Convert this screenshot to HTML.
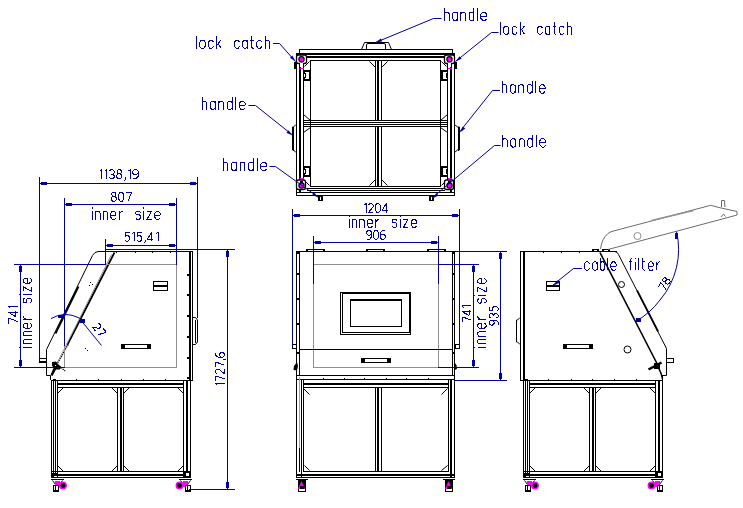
<!DOCTYPE html>
<html><head><meta charset="utf-8"><style>
html,body{margin:0;padding:0;background:#fff;width:743px;height:508px;overflow:hidden}
svg{display:block}
text{font-family:"Liberation Sans",sans-serif;white-space:pre}
</style></head><body>
<svg width="743" height="508" viewBox="0 0 743 508" shape-rendering="geometricPrecision">
<rect x="0" y="0" width="743" height="508" fill="#fff"/>
<path d="M361.5,49.5 L364.5,42.5 L388.5,42.5 L391.5,49.5" stroke="#000" stroke-width="1" fill="none"/>
<path d="M366.5,49.5 L366.5,45 Q366.5,43.5 368,43.5 L384,43.5 Q385.5,43.5 385.5,45 L385.5,49.5" stroke="#000" stroke-width="1" fill="none"/>
<rect x="299" y="49" width="154" height="1" fill="#000"/>
<rect x="299" y="49" width="1" height="5" fill="#000"/>
<rect x="452" y="49" width="1" height="5" fill="#000"/>
<rect x="296" y="53" width="159" height="2" fill="#000"/>
<rect x="307" y="56" width="138" height="2" fill="#000"/>
<rect x="310" y="60" width="131" height="1" fill="#000"/>
<rect x="310" y="186" width="131" height="1" fill="#000"/>
<rect x="307" y="188" width="138" height="1" fill="#000"/>
<rect x="307" y="190" width="138" height="1" fill="#000"/>
<rect x="296" y="192" width="159" height="1" fill="#000"/>
<rect x="296" y="195" width="159" height="1" fill="#000"/>
<rect x="296" y="53" width="1" height="143" fill="#000"/>
<rect x="299" y="56" width="2" height="137" fill="#000"/>
<rect x="303" y="60" width="1" height="127" fill="#000"/>
<rect x="310" y="60" width="1" height="127" fill="#000"/>
<rect x="440" y="60" width="1" height="127" fill="#000"/>
<rect x="447" y="60" width="1" height="127" fill="#000"/>
<rect x="450" y="56" width="2" height="137" fill="#000"/>
<rect x="454" y="53" width="1" height="143" fill="#000"/>
<rect x="375" y="60" width="1" height="127" fill="#000"/>
<rect x="377" y="60" width="2" height="127" fill="#000"/>
<rect x="381" y="60" width="1" height="127" fill="#000"/>
<rect x="311" y="121" width="129" height="5" fill="#fff"/>
<rect x="303" y="120" width="145" height="1" fill="#000"/>
<rect x="303" y="122" width="145" height="1" fill="#000"/>
<rect x="303" y="124" width="145" height="1" fill="#000"/>
<rect x="303" y="126" width="145" height="1" fill="#000"/>
<line x1="369.5" y1="61.5" x2="375.5" y2="67.5" stroke="#000" stroke-width="1"/>
<line x1="387.5" y1="61.5" x2="381.5" y2="67.5" stroke="#000" stroke-width="1"/>
<line x1="369.5" y1="185.5" x2="375.5" y2="179.5" stroke="#000" stroke-width="1"/>
<line x1="387.5" y1="185.5" x2="381.5" y2="179.5" stroke="#000" stroke-width="1"/>
<line x1="303.5" y1="114.5" x2="310.5" y2="120.5" stroke="#000" stroke-width="1"/>
<line x1="303.5" y1="132.5" x2="310.5" y2="127.5" stroke="#000" stroke-width="1"/>
<line x1="304.5" y1="66.5" x2="309.5" y2="61.5" stroke="#000" stroke-width="1"/>
<line x1="446.5" y1="66.5" x2="441.5" y2="61.5" stroke="#000" stroke-width="1"/>
<line x1="304.5" y1="180.5" x2="309.5" y2="185.5" stroke="#000" stroke-width="1"/>
<line x1="446.5" y1="180.5" x2="441.5" y2="185.5" stroke="#000" stroke-width="1"/>
<line x1="447.5" y1="114.5" x2="440.5" y2="120.5" stroke="#000" stroke-width="1"/>
<line x1="447.5" y1="132.5" x2="440.5" y2="127.5" stroke="#000" stroke-width="1"/>
<rect x="304" y="70" width="7" height="2" fill="#000"/>
<rect x="304" y="79" width="7" height="2" fill="#000"/>
<rect x="309" y="70" width="2" height="11" fill="#000"/>
<rect x="304" y="72" width="1" height="2" fill="#000"/>
<rect x="304" y="77" width="1" height="2" fill="#000"/>
<rect x="305" y="73" width="1" height="5" fill="#000"/>
<rect x="304" y="166" width="7" height="2" fill="#000"/>
<rect x="304" y="175" width="7" height="2" fill="#000"/>
<rect x="309" y="166" width="2" height="11" fill="#000"/>
<rect x="304" y="168" width="1" height="2" fill="#000"/>
<rect x="304" y="173" width="1" height="2" fill="#000"/>
<rect x="305" y="169" width="1" height="5" fill="#000"/>
<rect x="441" y="70" width="7" height="2" fill="#000"/>
<rect x="441" y="79" width="7" height="2" fill="#000"/>
<rect x="441" y="70" width="2" height="11" fill="#000"/>
<rect x="447" y="72" width="1" height="2" fill="#000"/>
<rect x="447" y="77" width="1" height="2" fill="#000"/>
<rect x="446" y="73" width="1" height="5" fill="#000"/>
<rect x="441" y="166" width="7" height="2" fill="#000"/>
<rect x="441" y="175" width="7" height="2" fill="#000"/>
<rect x="441" y="166" width="2" height="11" fill="#000"/>
<rect x="447" y="168" width="1" height="2" fill="#000"/>
<rect x="447" y="173" width="1" height="2" fill="#000"/>
<rect x="446" y="169" width="1" height="5" fill="#000"/>
<path d="M296,124.5 L293.5,127 L292.5,127 L292.5,150 L293.5,150 L296,152.5" stroke="#000" stroke-width="1" fill="none"/>
<rect x="293" y="127" width="1" height="24" fill="#000"/>
<path d="M454.5,124.5 L457.5,127 L459.5,127 L459.5,150 L457.5,150 L454.5,152.5" stroke="#000" stroke-width="1" fill="none"/>
<rect x="458" y="127" width="1" height="24" fill="#000"/>
<rect x="296.5" y="55" width="10" height="8.5" rx="2" fill="#fff" stroke="#000" stroke-width="1.3"/>
<circle cx="301.5" cy="59.3" r="2.6" stroke="#000" stroke-width="1.2" fill="#ff00ff"/>
<rect x="300" y="63" width="3" height="4" fill="#fff"/>
<rect x="299" y="63" width="1" height="5" fill="#000"/>
<rect x="303" y="63" width="1" height="5" fill="#000"/>
<rect x="300" y="68" width="4" height="1" fill="#ff00ff"/>
<rect x="444.5" y="55" width="10" height="8.5" rx="2" fill="#fff" stroke="#000" stroke-width="1.3"/>
<circle cx="449.5" cy="59.3" r="2.6" stroke="#000" stroke-width="1.2" fill="#ff00ff"/>
<rect x="448" y="63" width="3" height="4" fill="#fff"/>
<rect x="447" y="63" width="1" height="5" fill="#000"/>
<rect x="451" y="63" width="1" height="5" fill="#000"/>
<rect x="448" y="68" width="4" height="1" fill="#ff00ff"/>
<rect x="300" y="178" width="4" height="1" fill="#ff00ff"/>
<rect x="296.5" y="180" width="9" height="9.5" rx="2" fill="#fff" stroke="#000" stroke-width="1.3"/>
<circle cx="301.5" cy="185.5" r="2.6" stroke="#000" stroke-width="1.2" fill="#ff00ff"/>
<rect x="300" y="181" width="3" height="2" fill="#000"/>
<rect x="448" y="178" width="4" height="1" fill="#ff00ff"/>
<rect x="444.5" y="180" width="9" height="9.5" rx="2" fill="#fff" stroke="#000" stroke-width="1.3"/>
<circle cx="449.5" cy="185.5" r="2.6" stroke="#000" stroke-width="1.2" fill="#ff00ff"/>
<rect x="448" y="181" width="3" height="2" fill="#000"/>
<rect x="294" y="62" width="3" height="7" fill="#000"/>
<rect x="454" y="62" width="3" height="7" fill="#000"/>
<rect x="318" y="196" width="5" height="5" fill="#000"/>
<rect x="320" y="197" width="1" height="3" fill="#fff"/>
<rect x="429" y="196" width="5" height="5" fill="#000"/>
<rect x="431" y="197" width="1" height="3" fill="#fff"/>
<path d="M176.5,251.5 L98.5,251.5 Q94.5,251.5 92.5,255.5 L46.5,349.5 L46.5,375.5 L50.5,375.5 L50.5,380" stroke="#000" stroke-width="1" fill="none"/>
<line x1="114.5" y1="252.5" x2="67.5" y2="344.5" stroke="#000" stroke-width="1.8"/>
<path d="M68,344.5 L57.5,363" stroke="#000" stroke-width="1.6" stroke-dasharray="1.2,1" fill="none"/>
<path d="M61,367.5 L65,371" stroke="#000" stroke-width="1.5" stroke-dasharray="1.2,1" fill="none"/>
<line x1="111.5" y1="254.5" x2="58.5" y2="360.5" stroke="#909090" stroke-width="1"/>
<line x1="78.5" y1="286.5" x2="55.5" y2="333.5" stroke="#000" stroke-width="1.8"/>
<rect x="90" y="282" width="1" height="1" fill="#000"/>
<rect x="92" y="284" width="1" height="1" fill="#000"/>
<rect x="89" y="285" width="1" height="1" fill="#000"/>
<rect x="85" y="348" width="1" height="1" fill="#000"/>
<rect x="87" y="350" width="1" height="1" fill="#000"/>
<rect x="98" y="251" width="94" height="1" fill="#000"/>
<rect x="189" y="251" width="2" height="130" fill="#000"/>
<rect x="192" y="251" width="1" height="130" fill="#000"/>
<rect x="187" y="274" width="2" height="2" fill="#000"/>
<rect x="187" y="294" width="2" height="2" fill="#000"/>
<rect x="187" y="315" width="2" height="2" fill="#000"/>
<rect x="187" y="336" width="2" height="2" fill="#000"/>
<rect x="187" y="357" width="2" height="2" fill="#000"/>
<rect x="187" y="377" width="2" height="2" fill="#000"/>
<rect x="116" y="252" width="1" height="1" fill="#000"/>
<rect x="135" y="252" width="1" height="1" fill="#000"/>
<rect x="152" y="252" width="1" height="1" fill="#000"/>
<rect x="170" y="252" width="1" height="1" fill="#000"/>
<rect x="76" y="379" width="1" height="1" fill="#000"/>
<rect x="98" y="379" width="1" height="1" fill="#000"/>
<rect x="143" y="379" width="1" height="1" fill="#000"/>
<rect x="165" y="379" width="1" height="1" fill="#000"/>
<rect x="39" y="358" width="8" height="1" fill="#000"/>
<rect x="39" y="362" width="8" height="1" fill="#000"/>
<rect x="39" y="358" width="1" height="5" fill="#000"/>
<rect x="46" y="358" width="1" height="5" fill="#000"/>
<rect x="40" y="361" width="6" height="1" fill="#000"/>
<path d="M192.5,317.5 L195.5,317.5 L197.5,320 L197.5,342 L195.5,344.5 L192.5,344.5" stroke="#000" stroke-width="1" fill="none"/>
<rect x="195" y="320" width="1" height="23" fill="#000"/>
<rect x="153" y="281" width="15" height="1" fill="#000"/>
<rect x="153" y="290" width="15" height="1" fill="#000"/>
<rect x="153" y="281" width="1" height="10" fill="#000"/>
<rect x="167" y="281" width="1" height="10" fill="#000"/>
<rect x="154" y="285" width="13" height="2" fill="#000"/>
<rect x="121" y="344" width="30" height="1" fill="#000"/>
<rect x="121" y="348" width="30" height="1" fill="#000"/>
<rect x="121" y="344" width="1" height="5" fill="#000"/>
<rect x="150" y="344" width="1" height="5" fill="#000"/>
<rect x="122" y="345" width="3" height="3" fill="#000"/>
<rect x="147" y="345" width="3" height="3" fill="#000"/>
<rect x="105" y="264" width="72" height="1" fill="#909090"/>
<rect x="176" y="264" width="1" height="104" fill="#909090"/>
<rect x="64" y="367" width="113" height="1" fill="#909090"/>
<rect x="64" y="345" width="1" height="23" fill="#909090"/>
<path d="M52,362 L56,361.5 L58,364 L61.5,367 L60,369.5 L56,369.5 L52.5,376 L50.5,375 L53.5,368 L52,365.5 Z" fill="#000"/>
<rect x="55" y="365" width="1" height="1" fill="#fff"/>
<rect x="51" y="380" width="142" height="1" fill="#000"/>
<rect x="57" y="383" width="127" height="2" fill="#000"/>
<rect x="57" y="387" width="127" height="1" fill="#000"/>
<rect x="53" y="379" width="3" height="1" fill="#000"/>
<rect x="121" y="379" width="1" height="1" fill="#000"/>
<rect x="51" y="380" width="1" height="98" fill="#000"/>
<rect x="53" y="380" width="1" height="98" fill="#000"/>
<rect x="55" y="380" width="1" height="98" fill="#000"/>
<rect x="57" y="380" width="1" height="92" fill="#000"/>
<rect x="117" y="387" width="1" height="85" fill="#000"/>
<rect x="120" y="387" width="2" height="85" fill="#000"/>
<rect x="123" y="387" width="1" height="85" fill="#000"/>
<rect x="183" y="380" width="1" height="92" fill="#000"/>
<rect x="186" y="380" width="2" height="98" fill="#000"/>
<rect x="190" y="380" width="1" height="98" fill="#000"/>
<rect x="57" y="471" width="127" height="1" fill="#000"/>
<rect x="51" y="474" width="140" height="2" fill="#000"/>
<rect x="51" y="477" width="140" height="1" fill="#000"/>
<line x1="57.5" y1="393.5" x2="63.5" y2="387.5" stroke="#000" stroke-width="1"/>
<line x1="111.5" y1="387.5" x2="117.5" y2="393.5" stroke="#000" stroke-width="1"/>
<line x1="123.5" y1="393.5" x2="129.5" y2="387.5" stroke="#000" stroke-width="1"/>
<line x1="177.5" y1="387.5" x2="183.5" y2="393.5" stroke="#000" stroke-width="1"/>
<line x1="57.5" y1="465.5" x2="63.5" y2="471.5" stroke="#000" stroke-width="1"/>
<line x1="111.5" y1="471.5" x2="117.5" y2="465.5" stroke="#000" stroke-width="1"/>
<line x1="123.5" y1="465.5" x2="129.5" y2="471.5" stroke="#000" stroke-width="1"/>
<line x1="177.5" y1="471.5" x2="183.5" y2="465.5" stroke="#000" stroke-width="1"/>
<rect x="51" y="471" width="7" height="7" fill="#000"/>
<rect x="52" y="472" width="1" height="1" fill="#fff"/>
<rect x="54" y="472" width="1" height="1" fill="#fff"/>
<rect x="56" y="472" width="1" height="1" fill="#fff"/>
<rect x="54" y="476" width="3" height="1" fill="#fff"/>
<rect x="183" y="471" width="8" height="7" fill="#000"/>
<rect x="186" y="473" width="3" height="3" fill="#fff"/>
<rect x="51" y="479" width="13" height="1" fill="#000"/>
<line x1="52.5" y1="480.5" x2="55.5" y2="484.5" stroke="#000" stroke-width="1"/>
<line x1="62.5" y1="480.5" x2="59.5" y2="484.5" stroke="#000" stroke-width="1"/>
<rect x="55" y="481" width="5" height="6" fill="#ff00ff"/>
<circle cx="63" cy="485.5" r="3.2" stroke="#ff00ff" stroke-width="1.5" fill="#000"/>
<rect x="53" y="485" width="6" height="7" fill="#fff"/>
<rect x="53" y="485" width="6" height="1" fill="#000"/>
<rect x="53" y="491" width="6" height="1" fill="#000"/>
<rect x="53" y="485" width="1" height="7" fill="#000"/>
<rect x="58" y="485" width="1" height="7" fill="#000"/>
<rect x="55" y="486" width="1" height="4" fill="#000"/>
<rect x="54" y="490" width="4" height="1" fill="#000"/>
<rect x="179" y="479" width="13" height="1" fill="#000"/>
<line x1="180.5" y1="480.5" x2="183.5" y2="484.5" stroke="#000" stroke-width="1"/>
<line x1="190.5" y1="480.5" x2="187.5" y2="484.5" stroke="#000" stroke-width="1"/>
<rect x="183" y="481" width="5" height="6" fill="#ff00ff"/>
<circle cx="179.5" cy="485.5" r="3.2" stroke="#ff00ff" stroke-width="1.5" fill="#000"/>
<rect x="185" y="485" width="6" height="7" fill="#fff"/>
<rect x="185" y="485" width="6" height="1" fill="#000"/>
<rect x="185" y="491" width="6" height="1" fill="#000"/>
<rect x="185" y="485" width="1" height="7" fill="#000"/>
<rect x="190" y="485" width="1" height="7" fill="#000"/>
<rect x="187" y="486" width="1" height="4" fill="#000"/>
<rect x="186" y="490" width="4" height="1" fill="#000"/>
<rect x="296" y="251" width="159" height="1" fill="#000"/>
<rect x="296" y="251" width="1" height="125" fill="#000"/>
<rect x="299" y="251" width="1" height="125" fill="#000"/>
<rect x="452" y="251" width="1" height="125" fill="#000"/>
<rect x="454" y="251" width="1" height="125" fill="#000"/>
<rect x="296" y="375" width="159" height="1" fill="#000"/>
<rect x="306" y="249" width="19" height="3" fill="#000"/>
<rect x="308" y="250" width="15" height="1" fill="#fff"/>
<rect x="366" y="249" width="19" height="3" fill="#000"/>
<rect x="368" y="250" width="15" height="1" fill="#fff"/>
<rect x="427" y="249" width="19" height="3" fill="#000"/>
<rect x="429" y="250" width="15" height="1" fill="#fff"/>
<rect x="296" y="252" width="4" height="2" fill="#000"/>
<rect x="296" y="273" width="4" height="2" fill="#000"/>
<rect x="296" y="298" width="4" height="2" fill="#000"/>
<rect x="296" y="323" width="4" height="2" fill="#000"/>
<rect x="296" y="352" width="4" height="2" fill="#000"/>
<rect x="452" y="252" width="3" height="2" fill="#000"/>
<rect x="452" y="273" width="3" height="2" fill="#000"/>
<rect x="452" y="298" width="3" height="2" fill="#000"/>
<rect x="452" y="323" width="3" height="2" fill="#000"/>
<rect x="452" y="352" width="3" height="2" fill="#000"/>
<rect x="292" y="344" width="5" height="1" fill="#000"/>
<rect x="292" y="348" width="5" height="1" fill="#000"/>
<rect x="292" y="344" width="1" height="5" fill="#000"/>
<rect x="296" y="344" width="1" height="5" fill="#000"/>
<rect x="455" y="344" width="5" height="1" fill="#000"/>
<rect x="455" y="348" width="5" height="1" fill="#000"/>
<rect x="455" y="344" width="1" height="5" fill="#000"/>
<rect x="459" y="344" width="1" height="5" fill="#000"/>
<rect x="313" y="264" width="126" height="1" fill="#909090"/>
<rect x="313" y="367" width="126" height="1" fill="#909090"/>
<rect x="313" y="264" width="1" height="104" fill="#909090"/>
<rect x="438" y="264" width="1" height="104" fill="#909090"/>
<rect x="340" y="292" width="71" height="1" fill="#000"/>
<rect x="340" y="334" width="71" height="1" fill="#000"/>
<rect x="340" y="292" width="1" height="43" fill="#000"/>
<rect x="410" y="292" width="1" height="43" fill="#000"/>
<rect x="342" y="293" width="68" height="1" fill="#000"/>
<rect x="342" y="332" width="68" height="1" fill="#000"/>
<rect x="342" y="293" width="1" height="40" fill="#000"/>
<rect x="409" y="293" width="1" height="40" fill="#000"/>
<rect x="350" y="299" width="52" height="1" fill="#000"/>
<rect x="350" y="326" width="52" height="1" fill="#000"/>
<rect x="350" y="299" width="1" height="28" fill="#000"/>
<rect x="401" y="299" width="1" height="28" fill="#000"/>
<rect x="350" y="299" width="52" height="2" fill="#000"/>
<rect x="299" y="349" width="154" height="1" fill="#000"/>
<rect x="361" y="358" width="30" height="1" fill="#000"/>
<rect x="361" y="362" width="30" height="1" fill="#000"/>
<rect x="361" y="358" width="1" height="5" fill="#000"/>
<rect x="390" y="358" width="1" height="5" fill="#000"/>
<rect x="362" y="359" width="3" height="3" fill="#000"/>
<rect x="387" y="359" width="3" height="3" fill="#000"/>
<path d="M297,362 L294,366 L293.5,370 L297,370.5 L298,366 Z" fill="#000"/>
<path d="M454,362 L456.5,365 L457,369 L454.5,370 Z" fill="#000"/>
<rect x="296" y="379" width="159" height="1" fill="#000"/>
<rect x="303" y="383" width="146" height="2" fill="#000"/>
<rect x="303" y="387" width="146" height="1" fill="#000"/>
<rect x="323" y="378" width="1" height="1" fill="#000"/>
<rect x="344" y="378" width="1" height="1" fill="#000"/>
<rect x="364" y="378" width="1" height="1" fill="#000"/>
<rect x="386" y="378" width="1" height="1" fill="#000"/>
<rect x="406" y="378" width="1" height="1" fill="#000"/>
<rect x="428" y="378" width="1" height="1" fill="#000"/>
<rect x="296" y="375" width="1" height="103" fill="#000"/>
<rect x="299" y="377" width="1" height="72" fill="#00e0ff"/>
<rect x="299" y="448" width="1" height="24" fill="#000"/>
<rect x="301" y="379" width="1" height="99" fill="#000"/>
<rect x="303" y="379" width="1" height="93" fill="#000"/>
<rect x="375" y="387" width="1" height="85" fill="#000"/>
<rect x="377" y="387" width="2" height="85" fill="#000"/>
<rect x="381" y="387" width="1" height="85" fill="#000"/>
<rect x="448" y="379" width="1" height="93" fill="#000"/>
<rect x="450" y="380" width="2" height="98" fill="#000"/>
<rect x="454" y="375" width="1" height="103" fill="#000"/>
<rect x="303" y="471" width="146" height="1" fill="#000"/>
<rect x="296" y="474" width="159" height="2" fill="#000"/>
<rect x="296" y="477" width="159" height="1" fill="#000"/>
<line x1="303.5" y1="388.5" x2="309.5" y2="394.5" stroke="#000" stroke-width="1"/>
<line x1="447.5" y1="388.5" x2="441.5" y2="394.5" stroke="#000" stroke-width="1"/>
<line x1="304.5" y1="465.5" x2="309.5" y2="470.5" stroke="#000" stroke-width="1"/>
<line x1="447.5" y1="465.5" x2="441.5" y2="470.5" stroke="#000" stroke-width="1"/>
<rect x="296" y="479" width="12" height="1" fill="#000"/>
<rect x="298" y="480" width="8" height="11" fill="#000"/>
<path d="M301.5,481 L305,489 L298,489 Z" fill="#ff00ff"/>
<rect x="300" y="486" width="4" height="3" fill="#000"/>
<rect x="299" y="489" width="6" height="2" fill="#fff"/>
<rect x="298" y="491" width="8" height="1" fill="#000"/>
<rect x="443" y="479" width="12" height="1" fill="#000"/>
<rect x="445" y="480" width="8" height="11" fill="#000"/>
<path d="M448.5,481 L452,489 L445,489 Z" fill="#ff00ff"/>
<rect x="447" y="486" width="4" height="3" fill="#000"/>
<rect x="446" y="489" width="6" height="2" fill="#fff"/>
<rect x="445" y="491" width="8" height="1" fill="#000"/>
<rect x="520" y="251" width="97" height="1" fill="#000"/>
<rect x="520" y="251" width="1" height="130" fill="#000"/>
<rect x="523" y="251" width="2" height="130" fill="#000"/>
<path d="M614.5,251.5 Q617,251.5 618.5,254.5 L666.5,348.5 L666.5,375.5 L661.5,375.5" stroke="#000" stroke-width="1" fill="none"/>
<line x1="637.1" y1="290.5" x2="658.1" y2="331.5" stroke="#000" stroke-width="1.7"/>
<line x1="600.0" y1="252.5" x2="658.0" y2="365.5" stroke="#000" stroke-width="1.6"/>
<rect x="592" y="249" width="7" height="3" fill="#000"/>
<rect x="594" y="250" width="3" height="1" fill="#fff"/>
<rect x="602" y="249" width="8" height="3" fill="#000"/>
<rect x="604" y="250" width="4" height="1" fill="#fff"/>
<path d="M600.5,249 L601.5,244 Q604,235 611,231.7 L710.7,205.3 L719,207.5 L737,211.5 L737,215 L728,217.5 L608,249.5" stroke="#6c6c6c" stroke-width="1" fill="none"/>
<path d="M721.5,207 L721.5,200.5 L724.5,200.5 L725,207" stroke="#6c6c6c" stroke-width="1" fill="none"/>
<path d="M721,217 L723.5,214 L725.5,216.5" stroke="#6c6c6c" stroke-width="1" fill="none"/>
<line x1="651.5" y1="220.5" x2="693.5" y2="210.5" stroke="#909090" stroke-width="1.5"/>
<path d="M637.5,236 m-3.5,0 a3.5,3.5 0 1,0 7,0 a3.5,3.5 0 1,0 -7,0" stroke="#909090" stroke-width="1" fill="none"/>
<path d="M621.5,284.5 m-3,0 a3,3 0 1,0 6,0 a3,3 0 1,0 -6,0" stroke="#000" stroke-width="1" fill="none"/>
<path d="M627.5,349.5 m-3.5,0 a3.5,3.5 0 1,0 7,0 a3.5,3.5 0 1,0 -7,0" stroke="#000" stroke-width="1" fill="none"/>
<rect x="666" y="358" width="8" height="1" fill="#000"/>
<rect x="666" y="362" width="8" height="1" fill="#000"/>
<rect x="666" y="358" width="1" height="5" fill="#000"/>
<rect x="673" y="358" width="1" height="5" fill="#000"/>
<line x1="648.5" y1="369.5" x2="661.5" y2="362.5" stroke="#000" stroke-width="2.5"/>
<rect x="654" y="363" width="6" height="6" fill="#000"/>
<path d="M657.5,367 Q661,371 662.5,379" stroke="#000" stroke-width="1.5" fill="none"/>
<rect x="546" y="281" width="14" height="1" fill="#000"/>
<rect x="546" y="290" width="14" height="1" fill="#000"/>
<rect x="546" y="281" width="1" height="10" fill="#000"/>
<rect x="559" y="281" width="1" height="10" fill="#000"/>
<rect x="547" y="285" width="12" height="2" fill="#000"/>
<path d="M520,317.5 L517.5,320 L516.5,320 L516.5,342 L517.5,342 L520,344.5" stroke="#000" stroke-width="1" fill="none"/>
<rect x="563" y="344" width="30" height="1" fill="#000"/>
<rect x="563" y="348" width="30" height="1" fill="#000"/>
<rect x="563" y="344" width="1" height="5" fill="#000"/>
<rect x="592" y="344" width="1" height="5" fill="#000"/>
<rect x="564" y="345" width="3" height="3" fill="#000"/>
<rect x="589" y="345" width="3" height="3" fill="#000"/>
<rect x="548" y="379" width="1" height="1" fill="#000"/>
<rect x="571" y="379" width="1" height="1" fill="#000"/>
<rect x="614" y="379" width="1" height="1" fill="#000"/>
<rect x="636" y="379" width="1" height="1" fill="#000"/>
<rect x="543" y="252" width="1" height="1" fill="#000"/>
<rect x="561" y="252" width="1" height="1" fill="#000"/>
<rect x="579" y="252" width="1" height="1" fill="#000"/>
<rect x="520" y="380" width="143" height="1" fill="#000"/>
<rect x="529" y="383" width="127" height="2" fill="#000"/>
<rect x="529" y="387" width="127" height="1" fill="#000"/>
<rect x="525" y="379" width="3" height="1" fill="#000"/>
<rect x="592" y="379" width="1" height="1" fill="#000"/>
<rect x="523" y="380" width="1" height="98" fill="#000"/>
<rect x="525" y="380" width="1" height="98" fill="#000"/>
<rect x="527" y="380" width="1" height="98" fill="#000"/>
<rect x="529" y="380" width="1" height="92" fill="#000"/>
<rect x="589" y="387" width="1" height="85" fill="#000"/>
<rect x="592" y="387" width="2" height="85" fill="#000"/>
<rect x="595" y="387" width="1" height="85" fill="#000"/>
<rect x="655" y="380" width="1" height="92" fill="#000"/>
<rect x="658" y="380" width="2" height="98" fill="#000"/>
<rect x="662" y="375" width="1" height="103" fill="#000"/>
<rect x="529" y="471" width="127" height="1" fill="#000"/>
<rect x="523" y="474" width="140" height="2" fill="#000"/>
<rect x="523" y="477" width="140" height="1" fill="#000"/>
<line x1="529.5" y1="393.5" x2="535.5" y2="387.5" stroke="#000" stroke-width="1"/>
<line x1="583.5" y1="387.5" x2="589.5" y2="393.5" stroke="#000" stroke-width="1"/>
<line x1="595.5" y1="393.5" x2="601.5" y2="387.5" stroke="#000" stroke-width="1"/>
<line x1="649.5" y1="387.5" x2="655.5" y2="393.5" stroke="#000" stroke-width="1"/>
<line x1="529.5" y1="465.5" x2="535.5" y2="471.5" stroke="#000" stroke-width="1"/>
<line x1="583.5" y1="471.5" x2="589.5" y2="465.5" stroke="#000" stroke-width="1"/>
<line x1="595.5" y1="465.5" x2="601.5" y2="471.5" stroke="#000" stroke-width="1"/>
<line x1="649.5" y1="471.5" x2="655.5" y2="465.5" stroke="#000" stroke-width="1"/>
<rect x="523" y="471" width="7" height="7" fill="#000"/>
<rect x="524" y="472" width="1" height="1" fill="#fff"/>
<rect x="526" y="472" width="1" height="1" fill="#fff"/>
<rect x="528" y="472" width="1" height="1" fill="#fff"/>
<rect x="526" y="476" width="3" height="1" fill="#fff"/>
<rect x="655" y="471" width="8" height="7" fill="#000"/>
<rect x="658" y="473" width="3" height="3" fill="#fff"/>
<rect x="523" y="479" width="13" height="1" fill="#000"/>
<line x1="524.5" y1="480.5" x2="527.5" y2="484.5" stroke="#000" stroke-width="1"/>
<line x1="534.5" y1="480.5" x2="531.5" y2="484.5" stroke="#000" stroke-width="1"/>
<rect x="527" y="481" width="5" height="6" fill="#ff00ff"/>
<circle cx="535" cy="485.5" r="3.2" stroke="#ff00ff" stroke-width="1.5" fill="#000"/>
<rect x="525" y="485" width="6" height="7" fill="#fff"/>
<rect x="525" y="485" width="6" height="1" fill="#000"/>
<rect x="525" y="491" width="6" height="1" fill="#000"/>
<rect x="525" y="485" width="1" height="7" fill="#000"/>
<rect x="530" y="485" width="1" height="7" fill="#000"/>
<rect x="527" y="486" width="1" height="4" fill="#000"/>
<rect x="526" y="490" width="4" height="1" fill="#000"/>
<rect x="651" y="479" width="13" height="1" fill="#000"/>
<line x1="652.5" y1="480.5" x2="655.5" y2="484.5" stroke="#000" stroke-width="1"/>
<line x1="662.5" y1="480.5" x2="659.5" y2="484.5" stroke="#000" stroke-width="1"/>
<rect x="655" y="481" width="5" height="6" fill="#ff00ff"/>
<circle cx="651.5" cy="485.5" r="3.2" stroke="#ff00ff" stroke-width="1.5" fill="#000"/>
<rect x="657" y="485" width="6" height="7" fill="#fff"/>
<rect x="657" y="485" width="6" height="1" fill="#000"/>
<rect x="657" y="491" width="6" height="1" fill="#000"/>
<rect x="657" y="485" width="1" height="7" fill="#000"/>
<rect x="662" y="485" width="1" height="7" fill="#000"/>
<rect x="659" y="486" width="1" height="4" fill="#000"/>
<rect x="658" y="490" width="4" height="1" fill="#000"/>
<rect x="39" y="177" width="1" height="182" fill="#0000a0"/>
<rect x="39" y="183" width="159" height="1" fill="#0000a0"/>
<rect x="41" y="182" width="6" height="3" fill="#0000a0"/>
<rect x="190" y="182" width="6" height="3" fill="#0000a0"/>
<rect x="197" y="177" width="1" height="141" fill="#0000a0"/>
<rect x="64" y="198" width="1" height="148" fill="#0000a0"/>
<rect x="64" y="204" width="113" height="1" fill="#0000a0"/>
<rect x="66" y="203" width="6" height="3" fill="#0000a0"/>
<rect x="169" y="203" width="6" height="3" fill="#0000a0"/>
<rect x="176" y="198" width="1" height="67" fill="#0000a0"/>
<rect x="105" y="239" width="1" height="26" fill="#0000a0"/>
<rect x="105" y="245" width="72" height="1" fill="#0000a0"/>
<rect x="107" y="244" width="6" height="3" fill="#0000a0"/>
<rect x="169" y="244" width="6" height="3" fill="#0000a0"/>
<rect x="14" y="264" width="92" height="1" fill="#0000a0"/>
<rect x="14" y="367" width="51" height="1" fill="#0000a0"/>
<rect x="20" y="264" width="1" height="104" fill="#0000a0"/>
<rect x="19" y="266" width="3" height="6" fill="#0000a0"/>
<rect x="19" y="360" width="3" height="6" fill="#0000a0"/>
<rect x="105" y="249" width="130" height="1" fill="#0000a0"/>
<rect x="189" y="489" width="46" height="1" fill="#0000a0"/>
<rect x="227" y="249" width="1" height="241" fill="#0000a0"/>
<rect x="226" y="251" width="3" height="6" fill="#0000a0"/>
<rect x="226" y="482" width="3" height="6" fill="#0000a0"/>
<path d="M51,318.6 Q64.5,310.5 79.5,318.1" stroke="#0000a0" stroke-width="1" fill="none"/>
<line x1="79.5" y1="318.5" x2="101.5" y2="345.5" stroke="#0000a0" stroke-width="1"/>
<rect x="58" y="315" width="6" height="3" fill="#0000a0"/>
<rect x="80" y="319" width="5" height="4" fill="#0000a0"/>
<rect x="292" y="209" width="1" height="137" fill="#0000a0"/>
<rect x="459" y="209" width="1" height="138" fill="#0000a0"/>
<rect x="292" y="215" width="168" height="1" fill="#0000a0"/>
<rect x="294" y="214" width="6" height="3" fill="#0000a0"/>
<rect x="452" y="214" width="6" height="3" fill="#0000a0"/>
<rect x="313" y="236" width="1" height="48" fill="#0000a0"/>
<rect x="438" y="236" width="1" height="48" fill="#0000a0"/>
<rect x="313" y="242" width="126" height="1" fill="#0000a0"/>
<rect x="315" y="241" width="6" height="3" fill="#0000a0"/>
<rect x="431" y="241" width="6" height="3" fill="#0000a0"/>
<rect x="455" y="251" width="52" height="1" fill="#0000a0"/>
<rect x="455" y="380" width="52" height="1" fill="#0000a0"/>
<rect x="500" y="251" width="1" height="130" fill="#0000a0"/>
<rect x="499" y="253" width="3" height="6" fill="#0000a0"/>
<rect x="499" y="373" width="3" height="6" fill="#0000a0"/>
<rect x="438" y="264" width="41" height="1" fill="#0000a0"/>
<rect x="438" y="367" width="41" height="1" fill="#0000a0"/>
<rect x="473" y="264" width="1" height="104" fill="#0000a0"/>
<rect x="472" y="266" width="3" height="6" fill="#0000a0"/>
<rect x="472" y="360" width="3" height="6" fill="#0000a0"/>
<path d="M676.5,231.5 A78,78 0 0,1 660,300" stroke="#0000a0" stroke-width="1" fill="none"/>
<path d="M660,300 A78,78 0 0,1 635.5,321.5" stroke="#0000a0" stroke-width="1" fill="none"/>
<rect x="675" y="233" width="3" height="6" fill="#0000a0"/>
<rect x="636" y="318" width="5" height="4" fill="#0000a0"/>
<path d="M441.5,18.5 L433.5,18.5 L375.5,42.5" stroke="#0000a0" stroke-width="1" fill="none"/>
<path d="M498.5,32.5 L491.5,32.5 L455.5,61.5" stroke="#0000a0" stroke-width="1" fill="none"/>
<path d="M273,43.5 L279.5,43.5 L295.5,61.5" stroke="#0000a0" stroke-width="1" fill="none"/>
<path d="M248.5,105.5 L255.5,105.5 L292.5,135" stroke="#0000a0" stroke-width="1" fill="none"/>
<path d="M269.5,166.5 L275.5,166.5 L318,197" stroke="#0000a0" stroke-width="1" fill="none"/>
<path d="M500,90.5 L492.5,90.5 L459.5,132" stroke="#0000a0" stroke-width="1" fill="none"/>
<path d="M500.5,145.5 L494.5,145.5 L432,198" stroke="#0000a0" stroke-width="1" fill="none"/>
<path d="M582,268.5 L573.5,268.5 L553,285" stroke="#0000a0" stroke-width="1" fill="none"/>
<path d="M375.50,42.50 L382.13,41.56 L380.94,38.59 Z" fill="#0000a0"/>
<path d="M455.50,61.50 L461.61,58.76 L459.64,56.24 Z" fill="#0000a0"/>
<path d="M295.50,61.50 L292.39,55.57 L289.99,57.70 Z" fill="#0000a0"/>
<path d="M292.50,135.50 L288.45,130.17 L286.44,132.66 Z" fill="#0000a0"/>
<path d="M318.50,197.50 L314.15,192.41 L312.29,195.01 Z" fill="#0000a0"/>
<path d="M460.00,132.50 L465.30,128.41 L462.79,126.42 Z" fill="#0000a0"/>
<path d="M432.50,198.50 L438.51,195.54 L436.45,193.09 Z" fill="#0000a0"/>
<path d="M553.50,285.50 L559.57,282.67 L557.56,280.18 Z" fill="#0000a0"/>
<g fill="none" stroke="#0000a0" stroke-width="1" stroke-linejoin="round" shape-rendering="crispEdges"><path transform="translate(444.5 20.5)" d="M0.00,-12.19 L0.00,0.00 M0.00,-6.89 L1.40,-8.48 L3.27,-8.48 L4.67,-6.89 L4.67,0.00 M12.88,-8.48 L12.88,0.00 M12.88,-6.89 L11.48,-8.48 L9.61,-8.48 L8.21,-6.89 L8.21,-1.59 L9.61,0.00 L11.48,0.00 L12.88,-1.59 M16.43,-8.48 L16.43,0.00 M16.43,-6.89 L17.83,-8.48 L19.69,-8.48 L21.09,-6.89 L21.09,0.00 M29.31,-12.19 L29.31,0.00 M29.31,-6.89 L27.91,-8.48 L26.04,-8.48 L24.64,-6.89 L24.64,-1.59 L26.04,0.00 L27.91,0.00 L29.31,-1.59 M32.85,-12.19 L32.85,0.00 M36.40,-4.24 L42.00,-4.24 L42.00,-6.36 L40.13,-8.48 L38.27,-8.48 L36.40,-6.36 L36.40,-2.12 L38.27,0.00 L40.60,0.00 L42.00,-1.59"/><path transform="translate(196.5 48.5)" d="M0.00,-12.19 L0.00,0.00 M4.92,-8.48 L7.04,-8.48 L8.73,-6.36 L8.73,-2.12 L7.04,0.00 L4.92,0.00 L3.22,-2.12 L3.22,-6.36 L4.92,-8.48 M17.04,-6.36 L15.35,-8.48 L13.65,-8.48 L11.95,-6.36 L11.95,-2.12 L13.65,0.00 L15.35,0.00 L17.04,-2.12 M20.26,-12.19 L20.26,0.00 M24.50,-8.48 L20.26,-3.18 M21.79,-5.09 L24.67,0.00 M43.16,-6.36 L41.46,-8.48 L39.76,-8.48 L38.07,-6.36 L38.07,-2.12 L39.76,0.00 L41.46,0.00 L43.16,-2.12 M50.62,-8.48 L50.62,0.00 M50.62,-6.89 L49.34,-8.48 L47.65,-8.48 L46.38,-6.89 L46.38,-1.59 L47.65,0.00 L49.34,0.00 L50.62,-1.59 M55.11,-12.19 L55.11,-1.59 L56.38,0.00 L57.23,0.00 M53.84,-8.48 L57.23,-8.48 M65.54,-6.36 L63.84,-8.48 L62.15,-8.48 L60.45,-6.36 L60.45,-2.12 L62.15,0.00 L63.84,0.00 L65.54,-2.12 M68.76,-12.19 L68.76,0.00 M68.76,-6.89 L70.03,-8.48 L71.73,-8.48 L73.00,-6.89 L73.00,0.00"/><path transform="translate(500.5 34.5)" d="M0.00,-12.19 L0.00,0.00 M4.78,-8.48 L6.84,-8.48 L8.49,-6.36 L8.49,-2.12 L6.84,0.00 L4.78,0.00 L3.13,-2.12 L3.13,-6.36 L4.78,-8.48 M16.57,-6.36 L14.93,-8.48 L13.28,-8.48 L11.63,-6.36 L11.63,-2.12 L13.28,0.00 L14.93,0.00 L16.57,-2.12 M19.71,-12.19 L19.71,0.00 M23.83,-8.48 L19.71,-3.18 M21.19,-5.09 L24.00,0.00 M41.97,-6.36 L40.32,-8.48 L38.67,-8.48 L37.03,-6.36 L37.03,-2.12 L38.67,0.00 L40.32,0.00 L41.97,-2.12 M49.23,-8.48 L49.23,0.00 M49.23,-6.89 L47.99,-8.48 L46.34,-8.48 L45.11,-6.89 L45.11,-1.59 L46.34,0.00 L47.99,0.00 L49.23,-1.59 M53.60,-12.19 L53.60,-1.59 L54.84,0.00 L55.66,0.00 M52.36,-8.48 L55.66,-8.48 M63.74,-6.36 L62.09,-8.48 L60.44,-8.48 L58.80,-6.36 L58.80,-2.12 L60.44,0.00 L62.09,0.00 L63.74,-2.12 M66.88,-12.19 L66.88,0.00 M66.88,-6.89 L68.11,-8.48 L69.76,-8.48 L71.00,-6.89 L71.00,0.00"/><path transform="translate(202 109.5)" d="M0.00,-12.19 L0.00,0.00 M0.00,-6.89 L1.43,-8.48 L3.34,-8.48 L4.78,-6.89 L4.78,0.00 M13.19,-8.48 L13.19,0.00 M13.19,-6.89 L11.75,-8.48 L9.84,-8.48 L8.41,-6.89 L8.41,-1.59 L9.84,0.00 L11.75,0.00 L13.19,-1.59 M16.82,-8.48 L16.82,0.00 M16.82,-6.89 L18.25,-8.48 L20.16,-8.48 L21.60,-6.89 L21.60,0.00 M30.00,-12.19 L30.00,0.00 M30.00,-6.89 L28.57,-8.48 L26.66,-8.48 L25.23,-6.89 L25.23,-1.59 L26.66,0.00 L28.57,0.00 L30.00,-1.59 M33.64,-12.19 L33.64,0.00 M37.27,-4.24 L43.00,-4.24 L43.00,-6.36 L41.09,-8.48 L39.18,-8.48 L37.27,-6.36 L37.27,-2.12 L39.18,0.00 L41.57,0.00 L43.00,-1.59"/><path transform="translate(502 93)" d="M0.00,-12.19 L0.00,0.00 M0.00,-6.89 L1.43,-8.48 L3.34,-8.48 L4.78,-6.89 L4.78,0.00 M13.19,-8.48 L13.19,0.00 M13.19,-6.89 L11.75,-8.48 L9.84,-8.48 L8.41,-6.89 L8.41,-1.59 L9.84,0.00 L11.75,0.00 L13.19,-1.59 M16.82,-8.48 L16.82,0.00 M16.82,-6.89 L18.25,-8.48 L20.16,-8.48 L21.60,-6.89 L21.60,0.00 M30.00,-12.19 L30.00,0.00 M30.00,-6.89 L28.57,-8.48 L26.66,-8.48 L25.23,-6.89 L25.23,-1.59 L26.66,0.00 L28.57,0.00 L30.00,-1.59 M33.64,-12.19 L33.64,0.00 M37.27,-4.24 L43.00,-4.24 L43.00,-6.36 L41.09,-8.48 L39.18,-8.48 L37.27,-6.36 L37.27,-2.12 L39.18,0.00 L41.57,0.00 L43.00,-1.59"/><path transform="translate(502.5 147)" d="M0.00,-12.19 L0.00,0.00 M0.00,-6.89 L1.43,-8.48 L3.34,-8.48 L4.78,-6.89 L4.78,0.00 M13.19,-8.48 L13.19,0.00 M13.19,-6.89 L11.75,-8.48 L9.84,-8.48 L8.41,-6.89 L8.41,-1.59 L9.84,0.00 L11.75,0.00 L13.19,-1.59 M16.82,-8.48 L16.82,0.00 M16.82,-6.89 L18.25,-8.48 L20.16,-8.48 L21.60,-6.89 L21.60,0.00 M30.00,-12.19 L30.00,0.00 M30.00,-6.89 L28.57,-8.48 L26.66,-8.48 L25.23,-6.89 L25.23,-1.59 L26.66,0.00 L28.57,0.00 L30.00,-1.59 M33.64,-12.19 L33.64,0.00 M37.27,-4.24 L43.00,-4.24 L43.00,-6.36 L41.09,-8.48 L39.18,-8.48 L37.27,-6.36 L37.27,-2.12 L39.18,0.00 L41.57,0.00 L43.00,-1.59"/><path transform="translate(223 170.5)" d="M0.00,-12.19 L0.00,0.00 M0.00,-6.89 L1.45,-8.48 L3.38,-8.48 L4.83,-6.89 L4.83,0.00 M13.34,-8.48 L13.34,0.00 M13.34,-6.89 L11.89,-8.48 L9.96,-8.48 L8.51,-6.89 L8.51,-1.59 L9.96,0.00 L11.89,0.00 L13.34,-1.59 M17.01,-8.48 L17.01,0.00 M17.01,-6.89 L18.46,-8.48 L20.40,-8.48 L21.85,-6.89 L21.85,0.00 M30.35,-12.19 L30.35,0.00 M30.35,-6.89 L28.90,-8.48 L26.97,-8.48 L25.52,-6.89 L25.52,-1.59 L26.97,0.00 L28.90,0.00 L30.35,-1.59 M34.03,-12.19 L34.03,0.00 M37.70,-4.24 L43.50,-4.24 L43.50,-6.36 L41.57,-8.48 L39.63,-8.48 L37.70,-6.36 L37.70,-2.12 L39.63,0.00 L42.05,0.00 L43.50,-1.59"/><path transform="translate(99 178.7)" d="M0.51,-7.50 L2.57,-9.00 L2.57,0.00 M5.56,-7.50 L7.61,-9.00 L7.61,0.00 M10.08,-7.50 L11.63,-9.00 L13.69,-9.00 L15.23,-7.50 L15.23,-6.00 L13.69,-4.50 L12.14,-4.50 M13.69,-4.50 L15.23,-3.00 L15.23,-1.50 L13.69,0.00 L11.63,0.00 L10.08,-1.50 M19.24,-9.00 L21.30,-9.00 L22.33,-8.00 L22.33,-6.00 L21.30,-5.00 L19.24,-5.00 L18.21,-6.00 L18.21,-8.00 L19.24,-9.00 M19.24,-5.00 L17.70,-3.50 L17.70,-1.50 L19.24,0.00 L21.30,0.00 L22.84,-1.50 L22.84,-3.50 L21.30,-5.00 M26.34,-1.50 L26.34,0.50 L25.31,2.00 M29.33,-7.50 L31.39,-9.00 L31.39,0.00 M39.00,-5.50 L37.46,-4.00 L35.40,-4.00 L33.85,-5.50 L33.85,-7.50 L35.40,-9.00 L37.46,-9.00 L39.00,-7.50 L39.00,-2.00 L36.94,0.00 L34.37,0.00"/><path transform="translate(111.5 201.3)" d="M1.48,-9.00 L3.45,-9.00 L4.43,-8.00 L4.43,-6.00 L3.45,-5.00 L1.48,-5.00 L0.49,-6.00 L0.49,-8.00 L1.48,-9.00 M1.48,-5.00 L0.00,-3.50 L0.00,-1.50 L1.48,0.00 L3.45,0.00 L4.92,-1.50 L4.92,-3.50 L3.45,-5.00 M8.77,-9.00 L10.73,-9.00 L12.21,-7.00 L12.21,-2.00 L10.73,0.00 L8.77,0.00 L7.29,-2.00 L7.29,-7.00 L8.77,-9.00 M14.58,-9.00 L19.50,-9.00 L19.50,-7.50 L16.55,0.00"/><path transform="translate(92.5 219.5)" d="M0.00,-8.48 L0.00,0.00 M0.00,-12.19 L0.00,-10.92 M3.25,-8.48 L3.25,0.00 M3.25,-6.89 L4.53,-8.48 L6.25,-8.48 L7.53,-6.89 L7.53,0.00 M10.78,-8.48 L10.78,0.00 M10.78,-6.89 L12.06,-8.48 L13.77,-8.48 L15.06,-6.89 L15.06,0.00 M18.31,-4.24 L23.44,-4.24 L23.44,-6.36 L21.73,-8.48 L20.02,-8.48 L18.31,-6.36 L18.31,-2.12 L20.02,0.00 L22.16,0.00 L23.44,-1.59 M26.69,-8.48 L26.69,0.00 M26.69,-5.30 L28.83,-7.95 L29.69,-8.48 L30.11,-8.48 M47.91,-6.89 L46.63,-8.48 L44.49,-8.48 L43.20,-6.89 L43.20,-5.83 L44.06,-4.56 L47.05,-4.56 L47.91,-3.39 L47.91,-1.59 L46.63,0.00 L44.49,0.00 L43.20,-1.59 M51.16,-8.48 L51.16,0.00 M51.16,-12.19 L51.16,-10.92 M54.41,-8.48 L59.12,-8.48 L54.41,0.00 L59.12,0.00 M62.37,-4.24 L67.50,-4.24 L67.50,-6.36 L65.79,-8.48 L64.08,-8.48 L62.37,-6.36 L62.37,-2.12 L64.08,0.00 L66.22,0.00 L67.50,-1.59"/><path transform="translate(124.5 241.2)" d="M5.00,-9.00 L0.50,-9.00 L0.50,-5.00 L1.50,-5.50 L3.50,-5.50 L5.00,-4.00 L5.00,-1.50 L3.50,0.00 L1.50,0.00 L0.00,-1.50 M7.90,-7.50 L9.90,-9.00 L9.90,0.00 M17.30,-9.00 L12.80,-9.00 L12.80,-5.00 L13.80,-5.50 L15.80,-5.50 L17.30,-4.00 L17.30,-1.50 L15.80,0.00 L13.80,0.00 L12.30,-1.50 M20.70,-1.50 L20.70,0.50 L19.70,2.00 M27.10,0.00 L27.10,-9.00 L23.10,-2.50 L23.10,-2.00 L28.60,-2.00 M31.50,-7.50 L33.50,-9.00 L33.50,0.00"/><path transform="translate(363.7 212.5)" d="M0.48,-7.50 L2.38,-9.00 L2.38,0.00 M4.67,-7.50 L6.10,-9.00 L8.00,-9.00 L9.43,-7.50 L9.43,-5.50 L4.67,0.00 L9.43,0.00 M13.14,-9.00 L15.05,-9.00 L16.48,-7.00 L16.48,-2.00 L15.05,0.00 L13.14,0.00 L11.71,-2.00 L11.71,-7.00 L13.14,-9.00 M22.57,0.00 L22.57,-9.00 L18.76,-2.50 L18.76,-2.00 L24.00,-2.00"/><path transform="translate(349 227.5)" d="M0.00,-8.48 L0.00,0.00 M0.00,-12.19 L0.00,-10.92 M3.25,-8.48 L3.25,0.00 M3.25,-6.89 L4.53,-8.48 L6.25,-8.48 L7.53,-6.89 L7.53,0.00 M10.78,-8.48 L10.78,0.00 M10.78,-6.89 L12.06,-8.48 L13.77,-8.48 L15.06,-6.89 L15.06,0.00 M18.31,-4.24 L23.44,-4.24 L23.44,-6.36 L21.73,-8.48 L20.02,-8.48 L18.31,-6.36 L18.31,-2.12 L20.02,0.00 L22.16,0.00 L23.44,-1.59 M26.69,-8.48 L26.69,0.00 M26.69,-5.30 L28.83,-7.95 L29.69,-8.48 L30.11,-8.48 M47.91,-6.89 L46.63,-8.48 L44.49,-8.48 L43.20,-6.89 L43.20,-5.83 L44.06,-4.56 L47.05,-4.56 L47.91,-3.39 L47.91,-1.59 L46.63,0.00 L44.49,0.00 L43.20,-1.59 M51.16,-8.48 L51.16,0.00 M51.16,-12.19 L51.16,-10.92 M54.41,-8.48 L59.12,-8.48 L54.41,0.00 L59.12,0.00 M62.37,-4.24 L67.50,-4.24 L67.50,-6.36 L65.79,-8.48 L64.08,-8.48 L62.37,-6.36 L62.37,-2.12 L64.08,0.00 L66.22,0.00 L67.50,-1.59"/><path transform="translate(366.7 239.3)" d="M4.67,-5.50 L3.27,-4.00 L1.40,-4.00 L0.00,-5.50 L0.00,-7.50 L1.40,-9.00 L3.27,-9.00 L4.67,-7.50 L4.67,-2.00 L2.80,0.00 L0.47,0.00 M8.32,-9.00 L10.18,-9.00 L11.59,-7.00 L11.59,-2.00 L10.18,0.00 L8.32,0.00 L6.91,-2.00 L6.91,-7.00 L8.32,-9.00 M18.03,-9.00 L15.70,-9.00 L13.83,-6.50 L13.83,-1.50 L15.23,0.00 L17.10,0.00 L18.50,-1.50 L18.50,-3.50 L17.10,-5.00 L15.23,-5.00 L13.83,-3.50"/><path transform="translate(17.5 323.5) rotate(-90)" d="M0.00,-9.00 L4.92,-9.00 L4.92,-7.50 L1.97,0.00 M11.21,0.00 L11.21,-9.00 L7.28,-2.50 L7.28,-2.00 L12.68,-2.00 M15.53,-7.50 L17.50,-9.00 L17.50,0.00"/><path transform="translate(31.5 347) rotate(-90)" d="M0.00,-8.48 L0.00,0.00 M0.00,-12.19 L0.00,-10.92 M3.32,-8.48 L3.32,0.00 M3.32,-6.89 L4.63,-8.48 L6.38,-8.48 L7.70,-6.89 L7.70,0.00 M11.02,-8.48 L11.02,0.00 M11.02,-6.89 L12.33,-8.48 L14.08,-8.48 L15.39,-6.89 L15.39,0.00 M18.71,-4.24 L23.96,-4.24 L23.96,-6.36 L22.21,-8.48 L20.46,-8.48 L18.71,-6.36 L18.71,-2.12 L20.46,0.00 L22.65,0.00 L23.96,-1.59 M27.29,-8.48 L27.29,0.00 M27.29,-5.30 L29.47,-7.95 L30.35,-8.48 L30.78,-8.48 M48.97,-6.89 L47.66,-8.48 L45.48,-8.48 L44.16,-6.89 L44.16,-5.83 L45.04,-4.56 L48.10,-4.56 L48.97,-3.39 L48.97,-1.59 L47.66,0.00 L45.48,0.00 L44.16,-1.59 M52.30,-8.48 L52.30,0.00 M52.30,-12.19 L52.30,-10.92 M55.62,-8.48 L60.43,-8.48 L55.62,0.00 L60.43,0.00 M63.75,-4.24 L69.00,-4.24 L69.00,-6.36 L67.25,-8.48 L65.50,-8.48 L63.75,-6.36 L63.75,-2.12 L65.50,0.00 L67.69,0.00 L69.00,-1.59"/><path transform="translate(471 321.8) rotate(-90)" d="M0.00,-9.00 L4.49,-9.00 L4.49,-7.50 L1.80,0.00 M10.25,0.00 L10.25,-9.00 L6.65,-2.50 L6.65,-2.00 L11.60,-2.00 M14.20,-7.50 L16.00,-9.00 L16.00,0.00"/><path transform="translate(486 347) rotate(-90)" d="M0.00,-8.48 L0.00,0.00 M0.00,-12.19 L0.00,-10.92 M3.30,-8.48 L3.30,0.00 M3.30,-6.89 L4.60,-8.48 L6.34,-8.48 L7.64,-6.89 L7.64,0.00 M10.94,-8.48 L10.94,0.00 M10.94,-6.89 L12.24,-8.48 L13.98,-8.48 L15.28,-6.89 L15.28,0.00 M18.58,-4.24 L23.79,-4.24 L23.79,-6.36 L22.05,-8.48 L20.32,-8.48 L18.58,-6.36 L18.58,-2.12 L20.32,0.00 L22.49,0.00 L23.79,-1.59 M27.09,-8.48 L27.09,0.00 M27.09,-5.30 L29.26,-7.95 L30.13,-8.48 L30.56,-8.48 M48.62,-6.89 L47.32,-8.48 L45.15,-8.48 L43.84,-6.89 L43.84,-5.83 L44.71,-4.56 L47.75,-4.56 L48.62,-3.39 L48.62,-1.59 L47.32,0.00 L45.15,0.00 L43.84,-1.59 M51.92,-8.48 L51.92,0.00 M51.92,-12.19 L51.92,-10.92 M55.22,-8.48 L59.99,-8.48 L55.22,0.00 L59.99,0.00 M63.29,-4.24 L68.50,-4.24 L68.50,-6.36 L66.76,-8.48 L65.03,-8.48 L63.29,-6.36 L63.29,-2.12 L65.03,0.00 L67.20,0.00 L68.50,-1.59"/><path transform="translate(498 325) rotate(-90)" d="M4.65,-5.50 L3.25,-4.00 L1.39,-4.00 L0.00,-5.50 L0.00,-7.50 L1.39,-9.00 L3.25,-9.00 L4.65,-7.50 L4.65,-2.00 L2.79,0.00 L0.46,0.00 M6.88,-7.50 L8.27,-9.00 L10.13,-9.00 L11.52,-7.50 L11.52,-6.00 L10.13,-4.50 L8.74,-4.50 M10.13,-4.50 L11.52,-3.00 L11.52,-1.50 L10.13,0.00 L8.27,0.00 L6.88,-1.50 M18.40,-9.00 L14.22,-9.00 L14.22,-5.00 L15.15,-5.50 L17.01,-5.50 L18.40,-4.00 L18.40,-1.50 L17.01,0.00 L15.15,0.00 L13.75,-1.50"/><path transform="translate(224.5 385.4) rotate(-90)" d="M0.46,-7.50 L2.32,-9.00 L2.32,0.00 M4.55,-9.00 L9.20,-9.00 L9.20,-7.50 L6.41,0.00 M11.43,-7.50 L12.83,-9.00 L14.69,-9.00 L16.08,-7.50 L16.08,-5.50 L11.43,0.00 L16.08,0.00 M18.31,-9.00 L22.96,-9.00 L22.96,-7.50 L20.17,0.00 M26.12,-1.50 L26.12,0.50 L25.19,2.00 M32.54,-9.00 L30.21,-9.00 L28.35,-6.50 L28.35,-1.50 L29.75,0.00 L31.61,0.00 L33.00,-1.50 L33.00,-3.50 L31.61,-5.00 L29.75,-5.00 L28.35,-3.50"/><path transform="translate(584.5 270.3)" d="M5.08,-6.36 L3.39,-8.48 L1.69,-8.48 L0.00,-6.36 L0.00,-2.12 L1.69,0.00 L3.39,0.00 L5.08,-2.12 M12.54,-8.48 L12.54,0.00 M12.54,-6.89 L11.27,-8.48 L9.58,-8.48 L8.31,-6.89 L8.31,-1.59 L9.58,0.00 L11.27,0.00 L12.54,-1.59 M15.76,-12.19 L15.76,0.00 M15.76,-6.89 L17.03,-8.48 L18.73,-8.48 L20.00,-6.89 L20.00,-1.59 L18.73,0.00 L17.03,0.00 L15.76,-1.59 M23.22,-12.19 L23.22,0.00 M26.44,-4.24 L31.53,-4.24 L31.53,-6.36 L29.83,-8.48 L28.14,-8.48 L26.44,-6.36 L26.44,-2.12 L28.14,0.00 L30.25,0.00 L31.53,-1.59 M47.88,-12.19 L47.03,-12.19 L45.76,-10.60 L45.76,0.00 M44.49,-8.48 L47.46,-8.48 M50.68,-8.48 L50.68,0.00 M50.68,-12.19 L50.68,-10.92 M53.90,-12.19 L53.90,0.00 M58.39,-12.19 L58.39,-1.59 L59.66,0.00 L60.51,0.00 M57.12,-8.48 L60.51,-8.48 M63.73,-4.24 L68.81,-4.24 L68.81,-6.36 L67.12,-8.48 L65.42,-8.48 L63.73,-6.36 L63.73,-2.12 L65.42,0.00 L67.54,0.00 L68.81,-1.59 M72.03,-8.48 L72.03,0.00 M72.03,-5.30 L74.15,-7.95 L75.00,-8.48 L75.42,-8.48"/><path transform="translate(92.6 327.5) rotate(51)" d="M0.00,-6.38 L1.45,-7.65 L3.39,-7.65 L4.84,-6.38 L4.84,-4.67 L0.00,0.00 L4.84,0.00 M7.16,-7.65 L12.00,-7.65 L12.00,-6.38 L9.10,0.00"/><path transform="translate(664.9 291) rotate(-60)" d="M0.00,-7.65 L4.84,-7.65 L4.84,-6.38 L1.94,0.00 M8.61,-7.65 L10.55,-7.65 L11.52,-6.80 L11.52,-5.10 L10.55,-4.25 L8.61,-4.25 L7.65,-5.10 L7.65,-6.80 L8.61,-7.65 M8.61,-4.25 L7.16,-2.98 L7.16,-1.27 L8.61,0.00 L10.55,0.00 L12.00,-1.27 L12.00,-2.98 L10.55,-4.25"/></g>
</svg></body></html>
